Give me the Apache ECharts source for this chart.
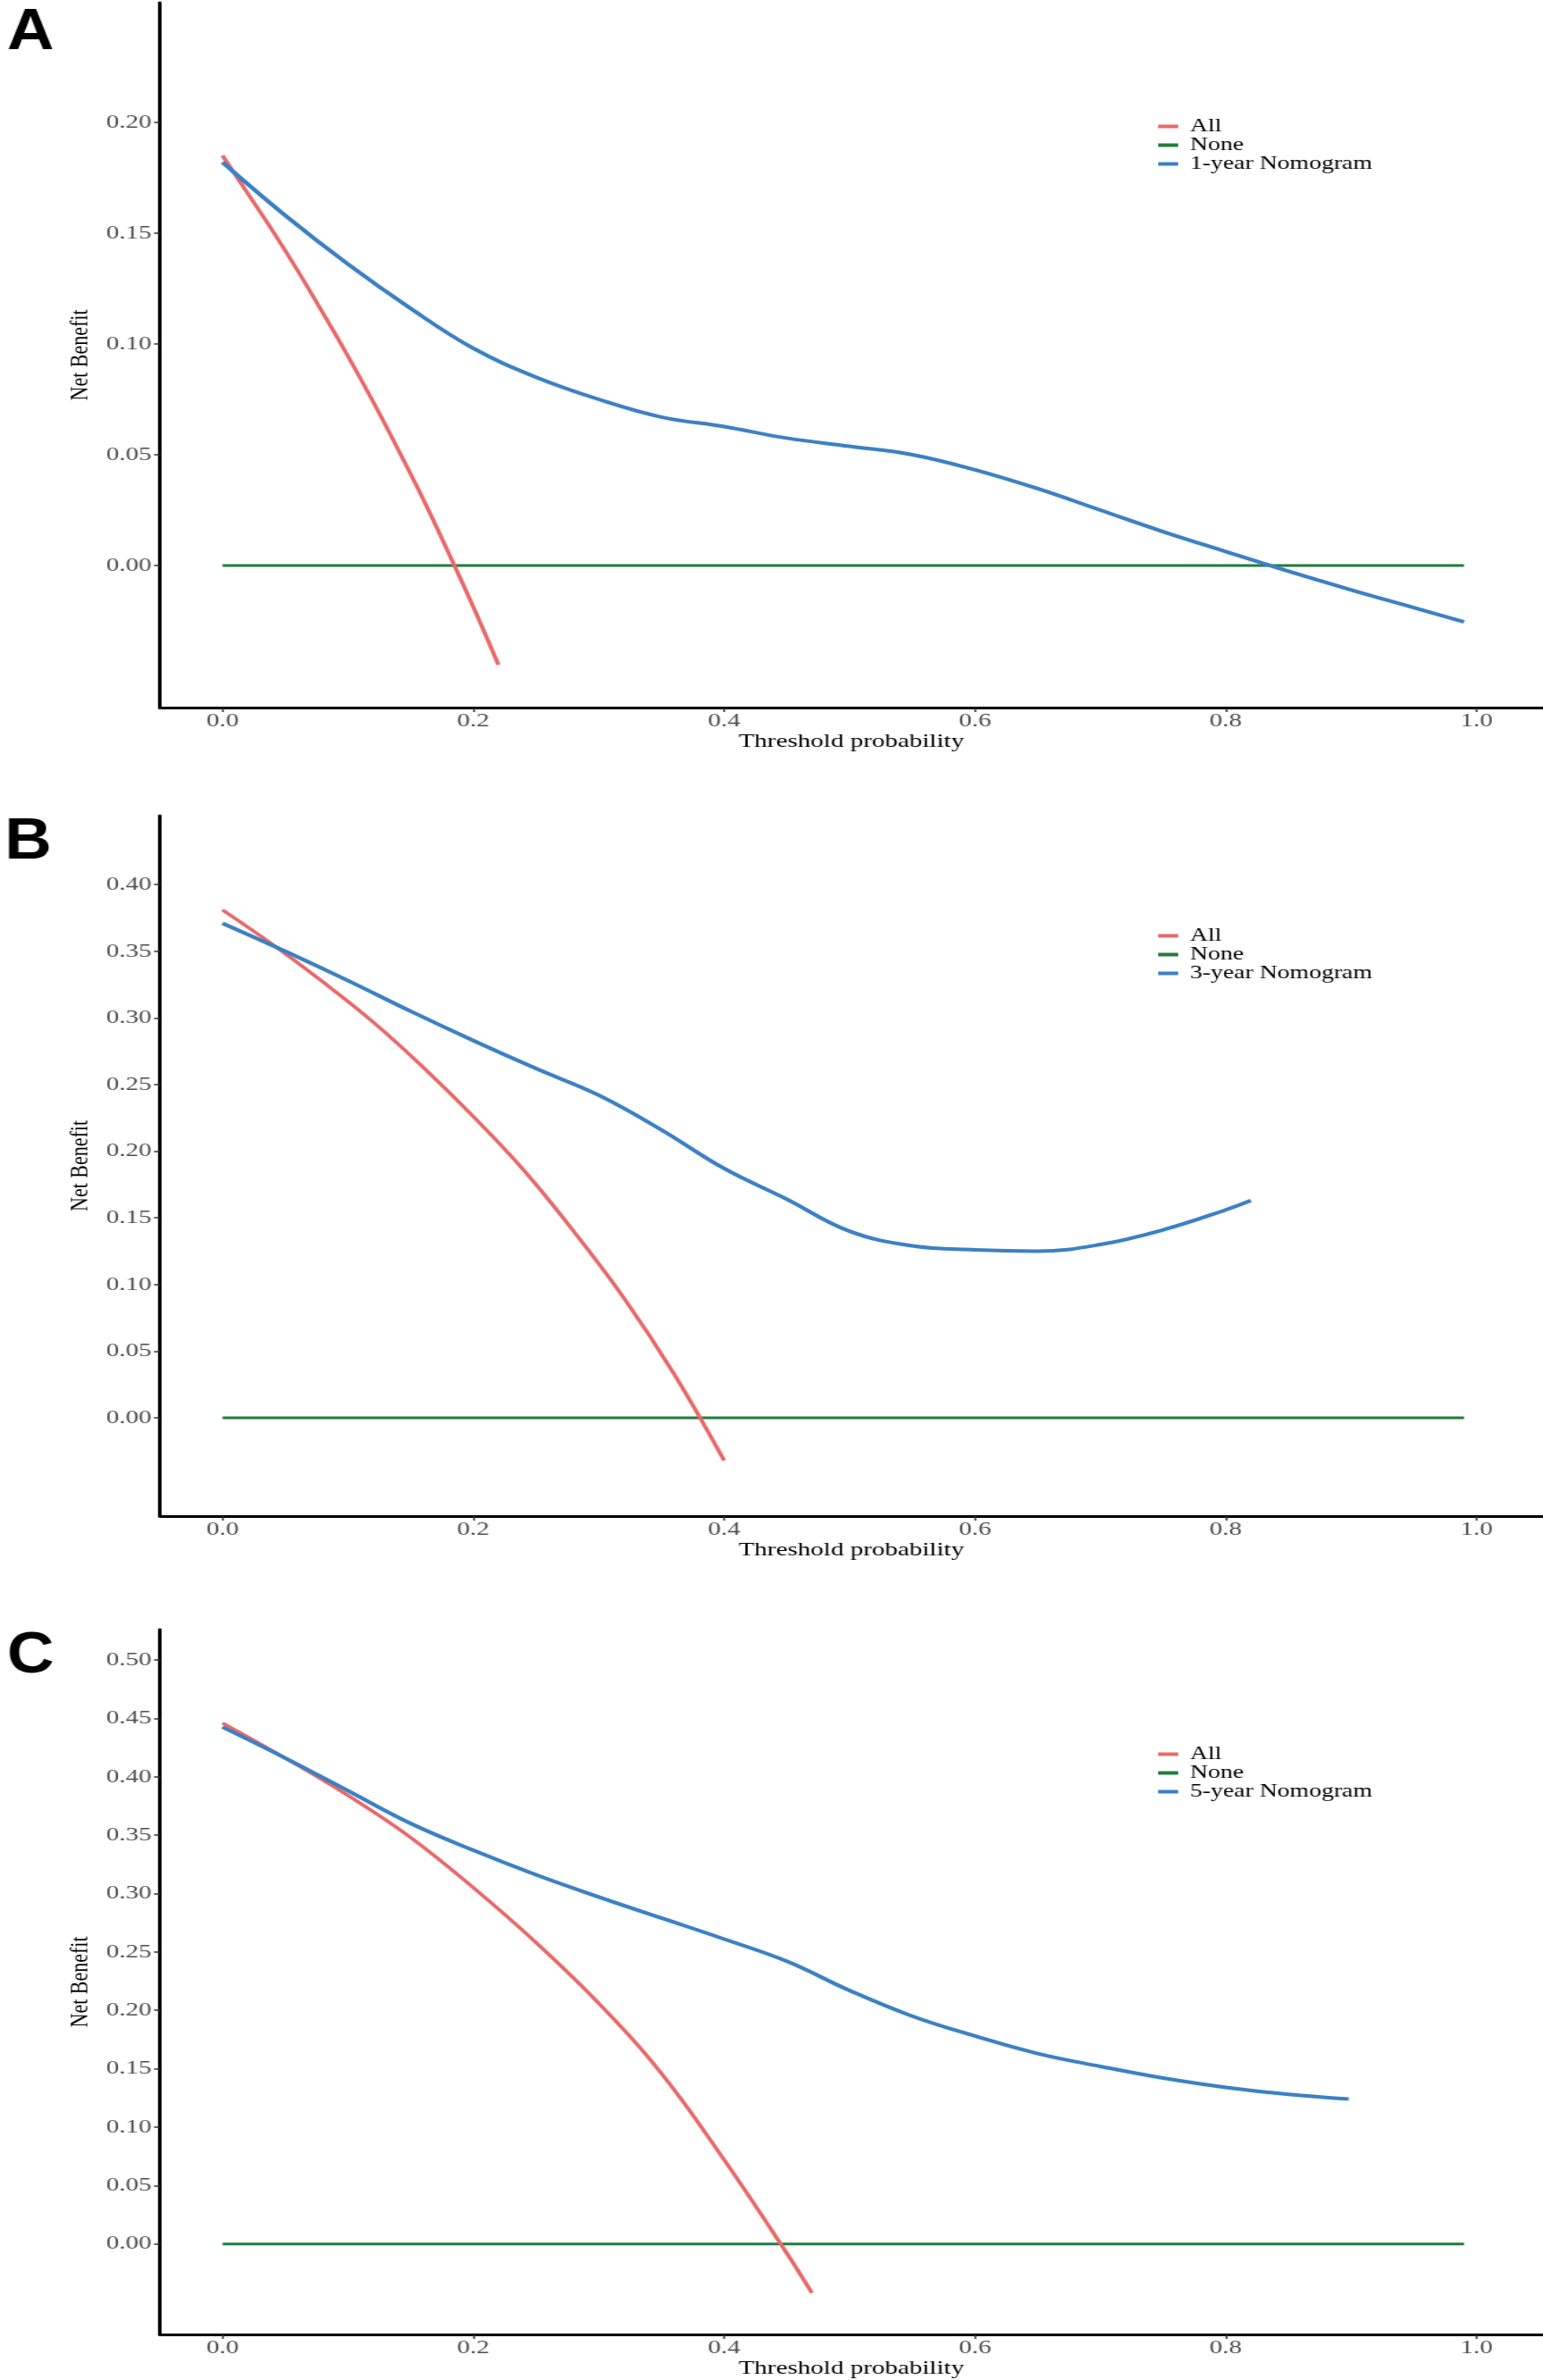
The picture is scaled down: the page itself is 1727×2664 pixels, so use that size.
<!DOCTYPE html>
<html>
<head>
<meta charset="utf-8">
<title>Decision curves</title>
<script src="https://cdn.jsdelivr.net/npm/echarts@6/dist/echarts.min.js"></script>
<style>
  html, body { margin: 0; padding: 0; background: #fff; overflow: hidden; }
  /* the figure is drawn narrow and stretched sideways, like the source */
  #main { height: 2664px; transform-origin: 0 0; }
</style>
</head>
<body>
<div id="main"></div>
<script>
// horizontal stretch of the original figure
const S = 1.32;
const W = 1727 / S;

const xTicks = [0, 0.2, 0.4, 0.6, 0.8, 1.0];
const yTicksA = [0, 0.05, 0.10, 0.15, 0.20];
const yTicksB = [0, 0.05, 0.10, 0.15, 0.20, 0.25, 0.30, 0.35, 0.40];
const yTicksC = [0, 0.05, 0.10, 0.15, 0.20, 0.25, 0.30, 0.35, 0.40, 0.45, 0.50];

const noneX = [0, 0.99];
const noneY = [0, 0];

// panel A, 1-year
const allAX = [0, 0.02, 0.04, 0.06, 0.08, 0.10, 0.12, 0.14, 0.16, 0.18, 0.20, 0.22];
const allAY = [0.185, 0.168, 0.151, 0.133, 0.114, 0.0945, 0.074, 0.0524, 0.030, 0.006, -0.0187, -0.0448];
const nomoAX = [0, 0.05, 0.10, 0.15, 0.20, 0.25, 0.30, 0.35, 0.40, 0.45, 0.50, 0.55, 0.60, 0.65, 0.70, 0.75, 0.80, 0.85, 0.90, 0.95, 0.99];
const nomoAY = [0.182, 0.158, 0.136, 0.116, 0.098, 0.085, 0.075, 0.067, 0.0627, 0.0575, 0.0538, 0.050, 0.0432, 0.0347, 0.025, 0.0153, 0.0063, -0.0026, -0.011, -0.019, -0.0254];

// panel B, 3-year
const allBX = [0, 0.04, 0.08, 0.12, 0.16, 0.20, 0.24, 0.28, 0.32, 0.36, 0.40];
const allBY = [0.381, 0.355, 0.327, 0.297, 0.263, 0.226, 0.186, 0.140, 0.090, 0.033, -0.032];
const nomoBX = [0, 0.05, 0.10, 0.15, 0.20, 0.25, 0.30, 0.35, 0.40, 0.45, 0.50, 0.55, 0.60, 0.65, 0.70, 0.75, 0.80, 0.82];
const nomoBY = [0.371, 0.350, 0.328, 0.305, 0.283, 0.262, 0.242, 0.216, 0.187, 0.164, 0.140, 0.129, 0.126, 0.125, 0.130, 0.141, 0.156, 0.163];

// panel C, 5-year
const allCX = [0, 0.05, 0.10, 0.15, 0.20, 0.25, 0.30, 0.35, 0.40, 0.45, 0.47];
const allCY = [0.446, 0.416, 0.384, 0.348, 0.305, 0.258, 0.206, 0.146, 0.072, -0.008, -0.042];
const nomoCX = [0, 0.05, 0.10, 0.15, 0.20, 0.25, 0.30, 0.35, 0.40, 0.45, 0.50, 0.55, 0.60, 0.65, 0.70, 0.75, 0.80, 0.85, 0.898];
const nomoCY = [0.4425, 0.416, 0.388, 0.360, 0.337, 0.316, 0.297, 0.279, 0.261, 0.242, 0.217, 0.195, 0.178, 0.163, 0.152, 0.142, 0.134, 0.128, 0.124];

const RED = '#E8696A', GREEN = '#237B3F', BLUE = '#3C80C4';
const serif = '"Liberation Serif", "Times New Roman", serif';

function zip(xs, ys) {
  return xs.map((x, i) => [x, ys[i]]);
}

const el = document.getElementById('main');
el.style.width = W + 'px';
el.style.transform = 'scaleX(' + S + ')';

const panels = [
  { letter: 'A', top: 3, height: 789, min: -0.0641, max: 0.254, ticks: yTicksA, legTop: 126, letterY: 37, letterX: 6,
    label: '1-year Nomogram', all: zip(allAX, allAY), nomo: zip(nomoAX, nomoAY) },
  { letter: 'B', top: 913, height: 784, min: -0.0737, max: 0.4517, ticks: yTicksB, legTop: 1032, letterY: 943, letterX: 4,
    label: '3-year Nomogram', all: zip(allBX, allBY), nomo: zip(nomoBX, nomoBY) },
  { letter: 'C', top: 1824, height: 789, min: -0.0775, max: 0.526, ticks: yTicksC, legTop: 1948, letterY: 1854, letterX: 6,
    label: '5-year Nomogram', all: zip(allCX, allCY), nomo: zip(nomoCX, nomoCY) }
];

const grid = [], xAxis = [], yAxis = [], series = [], legend = [], graphic = [];

panels.forEach(function (p, i) {
  grid.push({ left: 135.6, top: p.top, width: W - 135.6, height: p.height });

  xAxis.push({
    type: 'value', gridIndex: i, min: -0.0499, max: 1.0527,
    name: 'Threshold probability', nameLocation: 'middle', nameGap: 23,
    nameTextStyle: { fontFamily: serif, fontSize: 22, color: '#000' },
    axisLine: { onZero: false, lineStyle: { color: '#000', width: 3 } },
    axisTick: { customValues: xTicks, length: 5, lineStyle: { color: '#333', width: 1.5 } },
    axisLabel: { customValues: xTicks, margin: 4, fontFamily: serif, fontSize: 22, color: '#4d4d4d',
      formatter: function (v) { return v.toFixed(1); } },
    splitLine: { show: false }
  });

  yAxis.push({
    type: 'value', gridIndex: i, min: p.min, max: p.max,
    name: 'Net Benefit', nameLocation: 'middle', nameGap: 47, nameRotate: 90,
    nameTextStyle: { fontFamily: serif, fontSize: 22, color: '#000' },
    axisLine: { onZero: false, lineStyle: { color: '#000', width: 3 } },
    axisTick: { customValues: p.ticks, length: 5, lineStyle: { color: '#333', width: 1.5 } },
    axisLabel: { customValues: p.ticks, margin: 7, fontFamily: serif, fontSize: 22, color: '#4d4d4d',
      formatter: function (v) { return v.toFixed(2); } },
    splitLine: { show: false }
  });

  series.push(
    { name: 'All', type: 'line', xAxisIndex: i, yAxisIndex: i, data: p.all, smooth: 0.4,
      showSymbol: false, symbol: 'none', lineStyle: { color: RED, width: 3.5 }, itemStyle: { color: RED }, z: 3 },
    { name: 'None', type: 'line', xAxisIndex: i, yAxisIndex: i, data: zip(noneX, noneY),
      showSymbol: false, symbol: 'none', lineStyle: { color: GREEN, width: 3 }, itemStyle: { color: GREEN }, z: 2 },
    { name: p.label, type: 'line', xAxisIndex: i, yAxisIndex: i, data: p.nomo, smooth: 0.4,
      showSymbol: false, symbol: 'none', lineStyle: { color: BLUE, width: 4 }, itemStyle: { color: BLUE }, z: 4 }
  );

  legend.push({
    orient: 'vertical', left: 977, top: p.legTop,
    data: ['All', 'None', p.label],
    icon: 'rect', itemWidth: 17, itemHeight: 4, itemGap: 0,
    selectedMode: false,
    textStyle: { fontFamily: serif, fontSize: 21, color: '#000', lineHeight: 20.5, padding: [0, 0, 0, 5] }
  });

  graphic.push({
    type: 'text', x: p.letterX, y: p.letterY, scaleX: 0.86,
    style: { text: p.letter, fill: '#000', verticalAlign: 'middle',
      font: 'bold 64px "Liberation Sans", Arial, sans-serif' }
  });
});

const myChart = echarts.init(el);
myChart.setOption({
  backgroundColor: '#fff',
  animation: false,
  grid: grid,
  xAxis: xAxis,
  yAxis: yAxis,
  legend: legend,
  graphic: graphic,
  series: series
});
</script>
</body>
</html>
